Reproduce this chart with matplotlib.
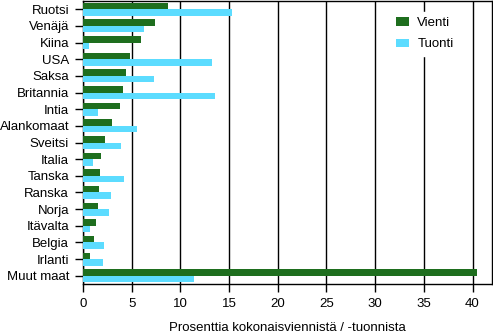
import matplotlib
matplotlib.use("Agg")
import matplotlib.pyplot as plt
import numpy as np

countries = ["Ruotsi", "Venäjä", "Kiina", "USA", "Saksa", "Britannia", "Intia",
             "Alankomaat", "Sveitsi", "Italia", "Tanska", "Ranska", "Norja",
             "Itävalta", "Belgia", "Irlanti", "Muut maat"]
vienti = [8.7, 7.4, 6.0, 4.8, 4.4, 4.1, 3.8, 2.95, 2.3, 1.8, 1.7, 1.6, 1.5, 1.3, 1.1, 0.7, 40.45]
tuonti = [15.35, 6.25, 0.6, 13.2, 7.3, 13.55, 1.5, 5.5, 3.9, 1.0, 4.2, 2.85, 2.65, 0.7, 2.15, 2.05, 11.4]
xticks = [0, 5, 10, 15, 20, 25, 30, 35, 40]

plt.rcParams['font.family'] = ['Liberation Sans', 'DejaVu Sans']
fs = 9.5
fig = plt.figure(figsize=(4.93, 3.34), dpi=100)
ax = fig.add_axes([83/493, 1-284/334, (492-83)/493, 283/334])

y = np.arange(len(countries))
h = 0.39
ax.barh(y - h/2, vienti, height=h, color="#1E6E1E", label="Vienti", zorder=3)
ax.barh(y + h/2, tuonti, height=h, color="#5CDCFF", label="Tuonti", zorder=3)

ax.set_ylim(len(countries) - 0.5, -0.5)
ax.set_xlim(0, 42)
ax.set_yticks(y)
ax.set_yticklabels(countries, fontsize=fs)
ax.set_xticks(xticks)
ax.set_xticklabels([str(t) for t in xticks], fontsize=fs)
ax.xaxis.grid(True, color="black", linewidth=1, zorder=0)
ax.set_axisbelow(True)
ax.tick_params(axis='y', direction='out', length=6, width=1, color='black', pad=4)
ax.tick_params(axis='x', direction='out', length=6, width=1, color='black', pad=4)
for s in ax.spines.values():
    s.set_linewidth(1)
    s.set_color('black')
ax.set_xlabel("Prosenttia kokonaisviennistä / -tuonnista", fontsize=fs, labelpad=9)

leg = ax.legend(loc='upper right', bbox_to_anchor=(0.935, 0.985), frameon=True, fontsize=fs,
                handlelength=1.0, handleheight=0.6, borderpad=0.4, labelspacing=0.7,
                handletextpad=0.6, fancybox=False, edgecolor='white', framealpha=1)
leg.set_zorder(5)

fig.savefig("out.png", dpi=100)
